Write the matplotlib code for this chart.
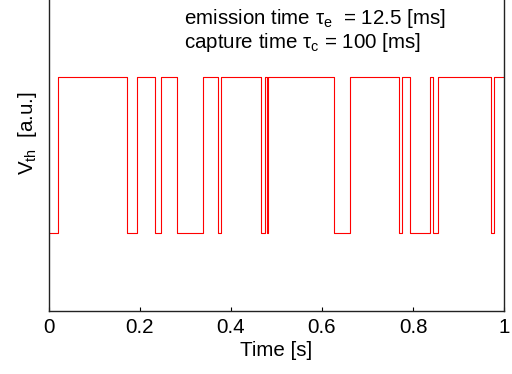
import matplotlib
matplotlib.use("Agg")
import matplotlib.pyplot as plt

# Switching times of the random telegraph signal (s) and the level after each
switch_times = [0.0, 0.019, 0.171, 0.193, 0.234, 0.246, 0.281, 0.339, 0.372, 0.379,
                0.465, 0.475, 0.480, 0.482, 0.626, 0.662, 0.770, 0.776, 0.793,
                0.837, 0.845, 0.854, 0.971, 0.977, 1.0]
levels = [0, 1, 0, 1, 0, 1, 0, 1, 0, 1,
          0, 1, 0, 1, 0, 1, 0, 1, 0,
          1, 0, 1, 0, 1, 1]
xticks = [0, 0.2, 0.4, 0.6, 0.8, 1]
xticklabels = ["0", "0.2", "0.4", "0.6", "0.8", "1"]

plt.rcParams['font.family'] = ['Liberation Sans', 'DejaVu Sans']
plt.rcParams['mathtext.fontset'] = 'custom'
plt.rcParams['mathtext.rm'] = 'Liberation Sans'
plt.rcParams['mathtext.it'] = 'Liberation Sans:italic'

FS = 14.8
W, H = 512, 374
fig = plt.figure(figsize=(W / 100, H / 100), dpi=100)
left, right, bottom, top = 49, 504, 311, -45
ax = fig.add_axes([left / W, (H - bottom) / H, (right - left) / W, (bottom - top) / H])

ax.step(switch_times, levels, where='post', color='#ff0000', lw=0.8)

ax.set_xlim(0, 1)
ax.set_ylim(-0.5, 1.78)
ax.set_xticks(xticks)
ax.set_xticklabels(xticklabels, fontsize=FS)
ax.set_yticks([])
ax.tick_params(axis='x', direction='in', length=3, width=0.8, top=True, pad=5)
for s in ax.spines.values():
    s.set_linewidth(1.0)
    s.set_color('#222222')
ax.set_xlabel("Time [s]", fontsize=FS, labelpad=3)
ax.set_ylabel(r"V$_{\rm th}$  [a.u.]", fontsize=FS, labelpad=7)

fig.text(184 / W, 1 - 19 / H, r"emission time τ$_{\rm e}$  = 12.5 [ms]",
         fontsize=FS, va='center', ha='left')
fig.text(184 / W, 1 - 42 / H, r"capture time τ$_{\rm c}$ = 100 [ms]",
         fontsize=FS, va='center', ha='left')

fig.savefig("out.png", dpi=100)
